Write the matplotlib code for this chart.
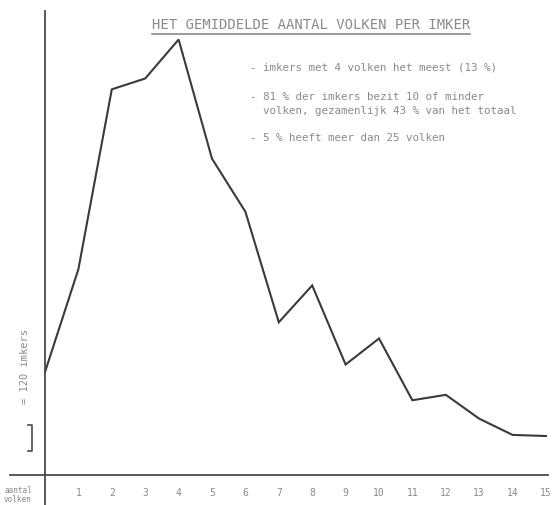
import matplotlib
matplotlib.use("Agg")
import matplotlib.pyplot as plt

# aantal volken per imker (0..15) and aantal imkers
volken = [0, 1, 2, 3, 4, 5, 6, 7, 8, 9, 10, 11, 12, 13, 14, 15]
imkers = [475, 950, 1780, 1830, 2010, 1460, 1215, 705, 875, 510, 630, 345, 370, 260, 185, 180]
tick_labels = [str(v) for v in volken[1:]]

title = "HET GEMIDDELDE AANTAL VOLKEN PER IMKER"
notes = [
    "- imkers met 4 volken het meest (13 %)",
    "- 81 % der imkers bezit 10 of minder\n  volken, gezamenlijk 43 % van het totaal",
    "- 5 % heeft meer dan 25 volken",
]
scale_imkers = 120

line_color = "#3a3a3a"
axis_color = "#4a4a4a"
text_color = "#8a8a8a"
mono = "DejaVu Sans Mono"

W, H = 555, 506
fig = plt.figure(figsize=(W / 100, H / 100), dpi=100)
ax = fig.add_axes([0, 0, 1, 1])

# map data to the scan's pixel grid: x step ~33.4 px, 120 imkers ~26 px
px_x = 33.4
px_y = scale_imkers / 26.0
x0_px, y0_px = 45, 476
ax.set_xlim(-x0_px / px_x, (W - x0_px) / px_x)
ax.set_ylim(-(H - y0_px) * px_y, y0_px * px_y)

def fx(px):
    return px / W

def fy(py):
    return 1 - py / H

ax.plot(volken, imkers, color=line_color, linewidth=1.5, solid_joinstyle="miter")

# axes drawn as spines through the origin
for s in ["top", "right"]:
    ax.spines[s].set_visible(False)
ax.spines["left"].set_position(("data", 0))
ax.spines["bottom"].set_position(("data", 0))
ax.spines["left"].set_bounds(-(H - y0_px) * px_y, (y0_px - 12) * px_y)
ax.spines["bottom"].set_bounds((10 - x0_px) / px_x, (548 - x0_px) / px_x)
for s in ["left", "bottom"]:
    ax.spines[s].set_color(axis_color)
    ax.spines[s].set_linewidth(1.3)

ax.set_xticks(volken[1:])
ax.set_xticklabels(tick_labels, fontfamily=mono, fontsize=7, color=text_color)
ax.tick_params(axis="x", length=0, pad=9)
ax.set_yticks([])

# title with underline
ax.text(fx(311), fy(25), title, transform=ax.transAxes, ha="center", va="center",
        fontfamily=mono, fontsize=10, color=text_color)
ax.plot([fx(152), fx(470)], [fy(35), fy(35)], transform=ax.transAxes,
        color=text_color, linewidth=1.2)

# notes
ax.text(fx(250), fy(67), notes[0], transform=ax.transAxes, ha="left", va="center",
        fontfamily=mono, fontsize=7.8, color=text_color)
ax.text(fx(250), fy(104), notes[1], transform=ax.transAxes, ha="left", va="center",
        fontfamily=mono, fontsize=7.8, color=text_color, linespacing=1.4)
ax.text(fx(250), fy(138), notes[2], transform=ax.transAxes, ha="left", va="center",
        fontfamily=mono, fontsize=7.8, color=text_color)

# scale bracket: 120 imkers
bx = (32 - x0_px) / px_x
b0 = (y0_px - 452) * px_y
b1 = b0 + scale_imkers
tick = 4 / px_x
ax.plot([bx - tick, bx, bx, bx - tick], [b0, b0, b1, b1], color=axis_color, linewidth=1.2)
ax.text(fx(25), fy(366), "= %d imkers" % scale_imkers, transform=ax.transAxes,
        rotation=90, ha="center", va="center", fontfamily=mono, fontsize=7.5,
        color=text_color)

# x-axis caption
ax.text(fx(18), fy(495), "aantal\nvolken", transform=ax.transAxes, ha="center",
        va="center", fontfamily=mono, fontsize=5.5, color=text_color, linespacing=1.1)

fig.savefig("out.png", dpi=100)
